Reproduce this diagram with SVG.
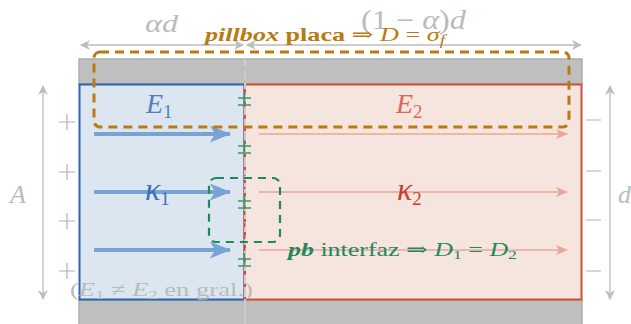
<svg xmlns="http://www.w3.org/2000/svg" width="631" height="324" viewBox="0 0 631 324">
<style>
.gray{fill:#bbbbbb}
.it{font-style:italic}
.dim{stroke:#bdbdbd;stroke-width:1.3;fill:none}
.sign{stroke:#b0b0b0;stroke-width:1.2}
.pm{stroke:#3a9a70;stroke-width:1.3}
.blue{stroke:#7aa3d5;stroke-width:4;fill:none}
.red{stroke:#e8a898;stroke-width:1.5;fill:none}
text{font-family:"Liberation Serif","DejaVu Serif",serif}
</style>
<defs>
<marker id="ga" viewBox="0 0 10 10" refX="9" refY="5" markerWidth="10" markerHeight="10" markerUnits="userSpaceOnUse" orient="auto-start-reverse">
<path d="M0,0 L10,5 L0,10 L3,5 Z" fill="#bdbdbd"/>
</marker>
<marker id="ba" viewBox="0 0 20 16" refX="19" refY="8" markerWidth="22" markerHeight="17" markerUnits="userSpaceOnUse" orient="auto">
<path d="M0,0 L20,8 L0,16 L5,8 Z" fill="#7aa3d5"/>
</marker>
<marker id="ra" viewBox="0 0 12 10" refX="11" refY="5" markerWidth="12" markerHeight="10" markerUnits="userSpaceOnUse" orient="auto">
<path d="M0,0 L12,5 L0,10 L3,5 Z" fill="#e8a898"/>
</marker>
</defs>
<g id="plates">
<rect x="79" y="59" width="503" height="25" fill="#bfbfbf" stroke="#adadad" stroke-width="1.5"/>
<rect x="79" y="300" width="503" height="26" fill="#bfbfbf" stroke="#adadad" stroke-width="1.5"/>
</g>
<g id="region1">
<rect x="79.5" y="84.5" width="165" height="215" fill="#dce6f1" stroke="#2e64b0" stroke-width="2"/>
</g>
<g id="region2">
<rect x="244.5" y="84.5" width="337" height="215" fill="#f6e4df" stroke="#cc5038" stroke-width="2"/>
</g>
<g id="interface">
<line x1="245" y1="59" x2="245" y2="324" stroke="#cccccc" stroke-width="2" stroke-dasharray="8,4"/>
<line x1="245" y1="85" x2="245" y2="299" stroke="#d05038" stroke-width="2" stroke-dasharray="7,6"/>
<line x1="245" y1="59" x2="245" y2="324" stroke="#cccccc" stroke-width="2" stroke-dasharray="4,9"/>
</g>
<g id="charges-interface">
<path class="pm" d="M238,98 H251 M238,105 H251 M244.5,92 V104"/>
<path class="pm" d="M238,146 H251 M238,153 H251 M244.5,140 V152"/>
<path class="pm" d="M238,201 H251 M238,208 H251 M244.5,195 V207"/>
<path class="pm" d="M238,259 H251 M238,266 H251 M244.5,253 V265"/>
</g>
<g id="plus">
<path class="sign" d="M59,122 H75 M67,114 V130"/>
<path class="sign" d="M59,172 H75 M67,164 V180"/>
<path class="sign" d="M59,221 H75 M67,213 V229"/>
<path class="sign" d="M59,271 H75 M67,263 V279"/>
</g>
<g id="minus">
<path class="sign" d="M586,120 H601 M586,171 H601 M586,220 H601 M586,271 H601"/>
</g>
<g id="connectors">
<line class="dim" x1="81" y1="45" x2="243" y2="45" marker-start="url(#ga)" marker-end="url(#ga)"/>
<line class="dim" x1="247" y1="45" x2="581" y2="45" marker-start="url(#ga)" marker-end="url(#ga)"/>
<line class="dim" x1="43" y1="86" x2="43" y2="299" marker-start="url(#ga)" marker-end="url(#ga)"/>
<line class="dim" x1="610" y1="86" x2="610" y2="299" marker-start="url(#ga)" marker-end="url(#ga)"/>
<line class="blue" x1="94" y1="134" x2="230" y2="134" marker-end="url(#ba)"/>
<line class="blue" x1="94" y1="192" x2="230" y2="192" marker-end="url(#ba)"/>
<line class="blue" x1="94" y1="250" x2="230" y2="250" marker-end="url(#ba)"/>
<line class="red" x1="259" y1="134" x2="567" y2="134" marker-end="url(#ra)"/>
<line class="red" x1="259" y1="192" x2="567" y2="192" marker-end="url(#ra)"/>
<line class="red" x1="259" y1="250" x2="567" y2="250" marker-end="url(#ra)"/>
</g>
<g id="pillbox-plate">
<rect x="94" y="52" width="475" height="75" rx="6" fill="none" stroke="#bb7a10" stroke-width="3" stroke-dasharray="9,6"/>
</g>
<g id="pillbox-interface">
<rect x="209" y="178" width="71" height="64" rx="7" fill="none" stroke="#1e8a5a" stroke-width="2.2" stroke-dasharray="8,6"/>
</g>
<g id="labels">
<text x="145" y="32" font-size="26" class="gray it" textLength="33" lengthAdjust="spacingAndGlyphs">αd</text>
<text x="361" y="29" font-size="27" fill="#bbbbbb" textLength="105" lengthAdjust="spacingAndGlyphs">(1 − <tspan font-style="italic">α</tspan>)<tspan font-style="italic">d</tspan></text>
<text x="205" y="41" font-size="19" fill="#bb7a10" font-weight="bold" textLength="240" lengthAdjust="spacingAndGlyphs"><tspan font-style="italic">pillbox</tspan> placa <tspan font-weight="normal">⇒ </tspan><tspan font-weight="normal" font-style="italic">D</tspan><tspan font-weight="normal"> = </tspan><tspan font-weight="normal" font-style="italic">σ</tspan><tspan font-weight="normal" font-style="italic" font-size="14" dy="4">f</tspan></text>
<text x="10" y="203" font-size="26" class="gray it">A</text>
<text x="618" y="203" font-size="26" class="gray it">d</text>
<text x="146" y="113" font-size="28" fill="#4f80c2" font-style="italic">E<tspan font-style="normal" font-size="19" dy="5">1</tspan></text>
<text x="145" y="200" font-size="32" fill="#3a6fba" font-style="italic">κ<tspan font-style="normal" font-size="19" dy="5">1</tspan></text>
<text x="396" y="113" font-size="28" fill="#d86a58" font-style="italic">E<tspan font-style="normal" font-size="19" dy="5">2</tspan></text>
<text x="397" y="200" font-size="32" fill="#c8402e" font-style="italic">κ<tspan font-style="normal" font-size="19" dy="5">2</tspan></text>
<text x="288" y="256" font-size="19" fill="#1e8a5a" textLength="229" lengthAdjust="spacingAndGlyphs"><tspan font-style="italic" font-weight="bold">pb</tspan> interfaz ⇒ <tspan font-style="italic">D</tspan><tspan font-size="13" dy="3">1</tspan><tspan dy="-3"> = </tspan><tspan font-style="italic">D</tspan><tspan font-size="13" dy="3">2</tspan></text>
<text x="70" y="296" font-size="19" fill="#bbbbbb" textLength="183" lengthAdjust="spacingAndGlyphs">(<tspan font-style="italic">E</tspan><tspan font-size="13" dy="3">1</tspan><tspan dy="-3"> ≠ </tspan><tspan font-style="italic">E</tspan><tspan font-size="13" dy="3">2</tspan><tspan dy="-3"> en gral.)</tspan></text>
</g>
</svg>
